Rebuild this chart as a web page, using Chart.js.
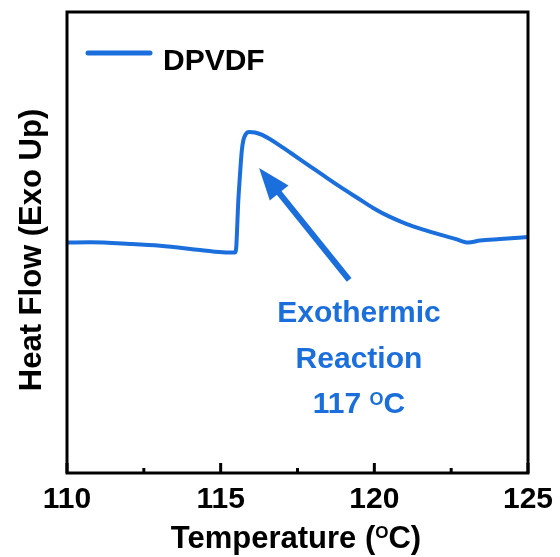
<!DOCTYPE html>
<html><head><meta charset="utf-8">
<script src="https://cdn.jsdelivr.net/npm/chart.js@4.4.1/dist/chart.umd.min.js"></script>
<style>html,body{margin:0;padding:0;background:#fff;}</style>
</head><body>
<canvas id="c" width="560" height="557"></canvas>
<script>
// ---- data ----
const temperature = [110.00,110.75,112.05,113.03,114.33,114.75,115.24,115.47,115.51,115.54,115.57,115.61,115.65,115.69,115.74,115.81,115.92,116.12,116.35,116.61,116.93,117.26,117.91,118.40,118.88,119.44,119.96,120.51,121.06,121.62,122.14,122.63,123.05,123.44,124.09,125.00];
const heatFlow    = [50.00,50.04,49.70,49.30,48.35,48.05,47.85,47.85,49.24,53.80,58.57,62.90,66.80,70.07,72.23,73.43,73.97,73.86,73.33,72.39,71.01,69.52,66.53,64.28,62.12,59.71,57.50,55.55,54.00,52.75,51.70,50.80,50.00,50.43,50.76,51.19];
const seriesLabel = 'DPVDF';
const xMajorTicks = [110, 115, 120, 125];
const xMinorTicks = [112.5, 117.5, 122.5];
const xTitleParts = ['Temperature (', 'O', 'C)'];
const yTitle = 'Heat Flow (Exo Up)';
const annotationLines = ['Exothermic', 'Reaction'];
const annotationTempParts = ['117 ', 'O', 'C'];
const annotationX = 119.5;
const annotationBaselines = [32.82, 22.78, 12.97];
const arrowTip = {x: 116.25, y: 66.16};
const arrowTail = {x: 119.18, y: 41.87};

const BLUE = '#1b6fdc';
const FAM = '"Liberation Sans", Arial, Helvetica, sans-serif';

function drawSup(ctx, parts, cx, baseline, mainSize, supSize, supRaise, color) {
  const mainFont = 'bold ' + mainSize + 'px ' + FAM;
  const supFont = 'bold ' + supSize + 'px ' + FAM;
  ctx.font = mainFont; const w0 = ctx.measureText(parts[0]).width; const w2 = ctx.measureText(parts[2]).width;
  ctx.font = supFont; const w1 = ctx.measureText(parts[1]).width;
  let x = cx - (w0 + w1 + w2) / 2;
  ctx.fillStyle = color; ctx.textAlign = 'left'; ctx.textBaseline = 'alphabetic';
  ctx.font = mainFont; ctx.fillText(parts[0], x, baseline); x += w0;
  ctx.font = supFont; ctx.fillText(parts[1], x, baseline - supRaise); x += w1;
  ctx.font = mainFont; ctx.fillText(parts[2], x, baseline);
}

const decor = {
  id: 'decor',
  afterDraw(chart) {
    const ctx = chart.ctx, a = chart.chartArea, xs = chart.scales.x, ys = chart.scales.y;
    ctx.save();
    // frame
    ctx.strokeStyle = '#000'; ctx.lineWidth = 3;
    ctx.strokeRect(a.left, a.top, a.right - a.left, a.bottom - a.top);
    // inward ticks
    ctx.lineWidth = 3; ctx.lineCap = 'butt';
    xMajorTicks.forEach(v => { const p = xs.getPixelForValue(v); ctx.beginPath(); ctx.moveTo(p, a.bottom); ctx.lineTo(p, a.bottom - 10); ctx.stroke(); });
    xMinorTicks.forEach(v => { const p = xs.getPixelForValue(v); ctx.beginPath(); ctx.moveTo(p, a.bottom); ctx.lineTo(p, a.bottom - 5); ctx.stroke(); });
    // legend
    ctx.strokeStyle = BLUE; ctx.lineWidth = 5; ctx.lineCap = 'round';
    ctx.beginPath(); ctx.moveTo(a.left + 21, 53); ctx.lineTo(a.left + 83, 53); ctx.stroke();
    ctx.fillStyle = '#000'; ctx.font = 'bold 30px ' + FAM; ctx.textAlign = 'left'; ctx.textBaseline = 'alphabetic';
    ctx.fillText(chart.data.datasets[0].label, a.left + 96, 70);
    // arrow
    const tx = xs.getPixelForValue(arrowTip.x), ty = ys.getPixelForValue(arrowTip.y);
    const sx = xs.getPixelForValue(arrowTail.x), sy = ys.getPixelForValue(arrowTail.y);
    const L = Math.hypot(tx - sx, ty - sy), ux = (tx - sx) / L, uy = (ty - sy) / L;
    const headLen = 32, headHalf = 12;
    const bx = tx - ux * headLen, by = ty - uy * headLen;
    ctx.strokeStyle = BLUE; ctx.lineWidth = 6; ctx.lineCap = 'butt';
    ctx.beginPath(); ctx.moveTo(sx, sy); ctx.lineTo(bx + ux * 2, by + uy * 2); ctx.stroke();
    ctx.fillStyle = BLUE; ctx.beginPath();
    ctx.moveTo(tx, ty); ctx.lineTo(bx - uy * headHalf, by + ux * headHalf); ctx.lineTo(bx + uy * headHalf, by - ux * headHalf); ctx.closePath(); ctx.fill();
    // annotation text
    const ax = xs.getPixelForValue(annotationX);
    ctx.fillStyle = BLUE; ctx.font = 'bold 30px ' + FAM; ctx.textAlign = 'center'; ctx.textBaseline = 'alphabetic';
    annotationLines.forEach((t, i) => ctx.fillText(t, ax, ys.getPixelForValue(annotationBaselines[i])));
    drawSup(ctx, annotationTempParts, ax, ys.getPixelForValue(annotationBaselines[2]), 30, 18, 8.6, BLUE);
    // axis titles
    drawSup(ctx, xTitleParts, 296, 548, 31, 17, 10, '#000');
    ctx.save(); ctx.translate(41, 250); ctx.rotate(-Math.PI / 2);
    ctx.fillStyle = '#000'; ctx.font = 'bold 31px ' + FAM; ctx.textAlign = 'center'; ctx.textBaseline = 'alphabetic';
    ctx.fillText(yTitle, 0, 0); ctx.restore();
    ctx.restore();
  }
};

new Chart(document.getElementById('c'), {
  type: 'line',
  data: { datasets: [{ label: seriesLabel, data: temperature.map((t, i) => ({x: t, y: heatFlow[i]})),
    borderColor: BLUE, borderWidth: 4, pointRadius: 0, fill: false, cubicInterpolationMode: 'monotone',
    borderJoinStyle: 'round', borderCapStyle: 'round' }] },
  options: {
    responsive: false, animation: false, devicePixelRatio: 1,
    layout: { padding: { left: 67, right: 32, top: 12, bottom: 0 } },
    plugins: { legend: { display: false }, tooltip: { enabled: false } },
    scales: {
      x: { type: 'linear', min: 110, max: 125,
        afterFit(s) { s.height = 84; },
        afterBuildTicks(s) { s.ticks = xMajorTicks.map(v => ({value: v})); },
        grid: { display: false }, border: { display: false },
        ticks: { padding: 1, color: '#000', font: { family: FAM, size: 30, weight: 'bold' } } },
      y: { type: 'linear', min: 0, max: 100, display: false }
    }
  },
  plugins: [decor]
});
</script>
</body></html>
